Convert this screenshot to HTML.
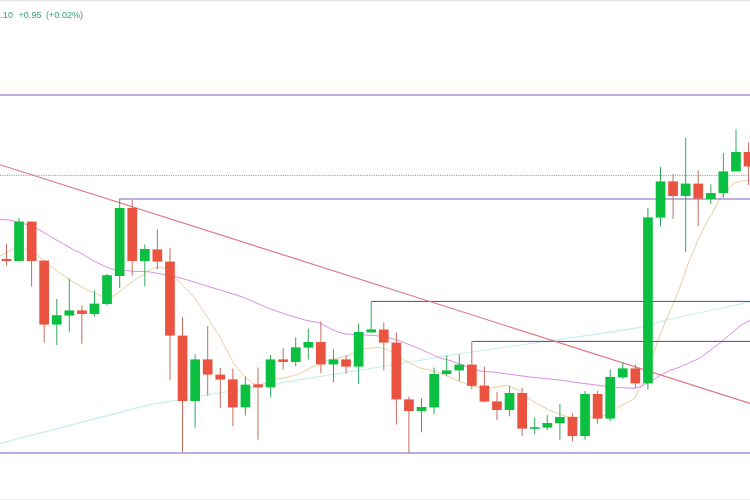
<!DOCTYPE html>
<html><head><meta charset="utf-8"><title>chart</title>
<style>html,body{margin:0;padding:0;background:#fff;}svg{display:block;}</style>
</head><body>
<svg width="750" height="500" viewBox="0 0 750 500">
<rect x="0" y="0" width="750" height="500" fill="#ffffff"/>
<rect x="0" y="0" width="750" height="1.2" fill="#e6e6e6"/>
<rect x="0" y="499" width="750" height="1" fill="#ececec"/>
<polyline fill="none" stroke="#c4efee" stroke-width="1.1" stroke-linejoin="round"  points="0.0,443.6 54.0,429.4 150.0,404.6 225.0,392.0 300.0,379.6 380.0,367.0 450.0,355.2 520.0,345.0 600.0,333.6 640.0,327.4 666.0,320.0 750.0,302.0"/>
<polyline fill="none" stroke="#ebcd9d" stroke-width="1.0" stroke-linejoin="round"  points="0.0,256.0 6.0,252.5 13.0,249.0 22.0,248.0 30.0,251.0 38.0,255.5 50.0,266.0 60.0,273.0 70.0,280.0 86.0,289.5 100.0,295.5 106.0,297.5 112.0,297.0 120.0,291.3 125.0,287.2 130.0,283.5 139.0,277.0 143.0,275.0 149.0,270.5 154.0,267.8 160.0,267.0 165.0,268.5 172.0,273.0 176.0,278.0 184.0,287.0 192.0,295.0 196.0,300.0 209.0,320.0 220.0,337.0 233.0,362.5 244.0,376.0 253.0,383.5 260.0,384.8 268.0,382.5 276.0,379.2 287.0,377.3 300.0,373.5 313.0,366.7 329.0,360.0 345.0,356.5 353.0,353.5 366.0,348.5 380.0,347.4 388.0,350.0 404.0,360.0 420.0,368.0 436.0,371.6 450.0,377.4 466.0,384.0 476.0,387.0 490.0,388.0 500.0,386.5 508.0,385.0 518.0,390.0 534.0,402.0 550.0,410.4 566.0,416.5 578.0,417.4 600.0,417.0 607.0,414.0 615.6,408.8 634.8,398.4 638.8,389.6 642.0,385.6 648.0,372.0 653.0,356.0 658.0,340.0 666.0,320.0 674.0,302.0 679.0,290.0 688.0,264.0 698.0,240.0 708.0,220.0 714.0,210.0 720.0,198.0 730.0,187.0 734.0,183.0 742.0,181.0 750.0,180.0"/>
<polyline fill="none" stroke="#da8ee7" stroke-width="1.0" stroke-linejoin="round"  points="0.0,219.2 12.0,220.4 25.0,224.0 38.0,229.0 53.0,238.0 60.0,242.0 74.0,250.0 80.0,252.6 93.0,260.5 100.0,264.0 107.0,267.3 112.0,269.0 120.0,270.3 135.0,271.3 148.0,271.6 162.0,274.2 178.0,277.2 194.0,282.0 210.0,287.0 226.0,291.8 242.0,296.8 249.0,299.7 268.0,308.0 287.0,314.7 305.0,320.0 319.0,322.7 329.0,328.0 338.0,332.0 345.0,334.0 366.0,335.0 384.0,336.3 400.0,341.0 420.0,349.0 440.0,358.0 450.0,360.5 465.0,366.0 480.0,371.0 496.0,372.4 530.0,377.0 560.0,380.0 580.0,383.0 600.0,385.5 620.0,387.6 635.0,388.3 642.0,386.0 653.0,380.0 660.0,375.5 670.0,370.4 680.0,367.0 700.0,358.0 720.0,343.0 740.0,326.0 750.0,320.0"/>
<line x1="0" y1="175.4" x2="750" y2="175.4" stroke="#6f9c86" stroke-width="1" stroke-dasharray="1 1.28"/>
<line x1="0" y1="95" x2="750" y2="95" stroke="#7d5cbe" stroke-width="1.2"/>
<line x1="119.4" y1="199" x2="750" y2="199" stroke="#8160c0" stroke-width="1.2"/>
<line x1="371.4" y1="301.4" x2="750" y2="301.4" stroke="#5c3fa8" stroke-width="1"/>
<line x1="472.2" y1="341.4" x2="750" y2="341.4" stroke="#5c3fa8" stroke-width="1"/>
<line x1="0" y1="453" x2="750" y2="453" stroke="#a88fd2" stroke-width="1.5"/>
<line x1="0" y1="164.7" x2="750" y2="403.4" stroke="#e1757f" stroke-width="1.15"/>
<line x1="6.5" y1="244.0" x2="6.5" y2="265.6" stroke="#c96a5e" stroke-width="1"/>
<rect x="1.6" y="259.0" width="9.7" height="2.0" fill="#e9533f"/>
<line x1="19.0" y1="218.0" x2="19.0" y2="261.0" stroke="#2fa862" stroke-width="1"/>
<rect x="14.2" y="221.6" width="9.7" height="39.4" fill="#0bbf41"/>
<line x1="31.6" y1="221.6" x2="31.6" y2="286.4" stroke="#c96a5e" stroke-width="1"/>
<rect x="26.8" y="221.6" width="9.7" height="39.4" fill="#e9533f"/>
<line x1="44.2" y1="260.6" x2="44.2" y2="342.6" stroke="#c96a5e" stroke-width="1"/>
<rect x="39.3" y="260.6" width="9.7" height="64.0" fill="#e9533f"/>
<line x1="56.8" y1="299.0" x2="56.8" y2="345.0" stroke="#2fa862" stroke-width="1"/>
<rect x="51.9" y="315.2" width="9.7" height="9.4" fill="#0bbf41"/>
<line x1="69.3" y1="278.6" x2="69.3" y2="331.6" stroke="#2fa862" stroke-width="1"/>
<rect x="64.5" y="310.4" width="9.7" height="5.2" fill="#0bbf41"/>
<line x1="81.9" y1="305.2" x2="81.9" y2="343.6" stroke="#c96a5e" stroke-width="1"/>
<rect x="77.1" y="310.4" width="9.7" height="3.6" fill="#e9533f"/>
<line x1="94.5" y1="290.4" x2="94.5" y2="316.4" stroke="#2fa862" stroke-width="1"/>
<rect x="89.6" y="303.6" width="9.7" height="10.4" fill="#0bbf41"/>
<line x1="107.1" y1="274.0" x2="107.1" y2="305.4" stroke="#2fa862" stroke-width="1"/>
<rect x="102.2" y="275.2" width="9.7" height="28.8" fill="#0bbf41"/>
<line x1="119.7" y1="198.8" x2="119.7" y2="288.0" stroke="#2fa862" stroke-width="1"/>
<rect x="114.8" y="208.0" width="9.7" height="68.0" fill="#0bbf41"/>
<line x1="132.2" y1="200.0" x2="132.2" y2="275.6" stroke="#c96a5e" stroke-width="1"/>
<rect x="127.4" y="208.0" width="9.7" height="53.0" fill="#e9533f"/>
<line x1="144.8" y1="244.4" x2="144.8" y2="286.4" stroke="#2fa862" stroke-width="1"/>
<rect x="140.0" y="249.0" width="9.7" height="12.0" fill="#0bbf41"/>
<line x1="157.4" y1="229.4" x2="157.4" y2="269.0" stroke="#c96a5e" stroke-width="1"/>
<rect x="152.5" y="249.4" width="9.7" height="12.2" fill="#e9533f"/>
<line x1="170.0" y1="248.0" x2="170.0" y2="380.0" stroke="#c96a5e" stroke-width="1"/>
<rect x="165.1" y="261.6" width="9.7" height="74.0" fill="#e9533f"/>
<line x1="182.5" y1="317.0" x2="182.5" y2="452.0" stroke="#c96a5e" stroke-width="1"/>
<rect x="177.7" y="335.6" width="9.7" height="65.4" fill="#e9533f"/>
<line x1="195.1" y1="354.4" x2="195.1" y2="427.6" stroke="#2fa862" stroke-width="1"/>
<rect x="190.3" y="359.4" width="9.7" height="41.6" fill="#0bbf41"/>
<line x1="207.7" y1="326.0" x2="207.7" y2="395.6" stroke="#c96a5e" stroke-width="1"/>
<rect x="202.8" y="359.4" width="9.7" height="15.2" fill="#e9533f"/>
<line x1="220.3" y1="368.0" x2="220.3" y2="408.0" stroke="#c96a5e" stroke-width="1"/>
<rect x="215.4" y="374.6" width="9.7" height="5.0" fill="#e9533f"/>
<line x1="232.9" y1="368.6" x2="232.9" y2="426.0" stroke="#c96a5e" stroke-width="1"/>
<rect x="228.0" y="379.4" width="9.7" height="28.0" fill="#e9533f"/>
<line x1="245.4" y1="376.6" x2="245.4" y2="415.4" stroke="#2fa862" stroke-width="1"/>
<rect x="240.6" y="384.6" width="9.7" height="22.8" fill="#0bbf41"/>
<line x1="258.0" y1="367.4" x2="258.0" y2="439.6" stroke="#c96a5e" stroke-width="1"/>
<rect x="253.2" y="384.4" width="9.7" height="3.0" fill="#e9533f"/>
<line x1="270.6" y1="355.0" x2="270.6" y2="397.0" stroke="#2fa862" stroke-width="1"/>
<rect x="265.7" y="359.4" width="9.7" height="28.0" fill="#0bbf41"/>
<line x1="283.2" y1="348.4" x2="283.2" y2="369.6" stroke="#c96a5e" stroke-width="1"/>
<rect x="278.3" y="359.4" width="9.7" height="2.6" fill="#e9533f"/>
<line x1="295.7" y1="337.4" x2="295.7" y2="366.4" stroke="#2fa862" stroke-width="1"/>
<rect x="290.9" y="347.4" width="9.7" height="14.6" fill="#0bbf41"/>
<line x1="308.3" y1="328.6" x2="308.3" y2="359.6" stroke="#2fa862" stroke-width="1"/>
<rect x="303.5" y="342.0" width="9.7" height="5.6" fill="#0bbf41"/>
<line x1="320.9" y1="321.4" x2="320.9" y2="373.4" stroke="#c96a5e" stroke-width="1"/>
<rect x="316.0" y="342.0" width="9.7" height="22.4" fill="#e9533f"/>
<line x1="333.5" y1="349.4" x2="333.5" y2="382.0" stroke="#2fa862" stroke-width="1"/>
<rect x="328.6" y="359.4" width="9.7" height="5.0" fill="#0bbf41"/>
<line x1="346.1" y1="355.6" x2="346.1" y2="373.6" stroke="#c96a5e" stroke-width="1"/>
<rect x="341.2" y="359.4" width="9.7" height="7.2" fill="#e9533f"/>
<line x1="358.6" y1="323.4" x2="358.6" y2="384.0" stroke="#2fa862" stroke-width="1"/>
<rect x="353.8" y="332.0" width="9.7" height="34.6" fill="#0bbf41"/>
<line x1="371.2" y1="301.4" x2="371.2" y2="332.4" stroke="#2fa862" stroke-width="1"/>
<rect x="366.4" y="329.4" width="9.7" height="3.0" fill="#0bbf41"/>
<line x1="383.8" y1="322.6" x2="383.8" y2="370.4" stroke="#c96a5e" stroke-width="1"/>
<rect x="378.9" y="329.6" width="9.7" height="13.0" fill="#e9533f"/>
<line x1="396.4" y1="332.4" x2="396.4" y2="424.6" stroke="#c96a5e" stroke-width="1"/>
<rect x="391.5" y="342.6" width="9.7" height="56.8" fill="#e9533f"/>
<line x1="408.9" y1="396.4" x2="408.9" y2="453.0" stroke="#c96a5e" stroke-width="1"/>
<rect x="404.1" y="399.4" width="9.7" height="11.6" fill="#e9533f"/>
<line x1="421.5" y1="398.0" x2="421.5" y2="432.4" stroke="#2fa862" stroke-width="1"/>
<rect x="416.7" y="407.0" width="9.7" height="4.0" fill="#0bbf41"/>
<line x1="434.1" y1="367.4" x2="434.1" y2="414.0" stroke="#2fa862" stroke-width="1"/>
<rect x="429.3" y="374.0" width="9.7" height="33.4" fill="#0bbf41"/>
<line x1="446.7" y1="355.4" x2="446.7" y2="376.0" stroke="#2fa862" stroke-width="1"/>
<rect x="441.8" y="370.4" width="9.7" height="3.6" fill="#0bbf41"/>
<line x1="459.3" y1="354.4" x2="459.3" y2="381.0" stroke="#2fa862" stroke-width="1"/>
<rect x="454.4" y="364.6" width="9.7" height="5.8" fill="#0bbf41"/>
<line x1="471.8" y1="341.4" x2="471.8" y2="389.2" stroke="#c96a5e" stroke-width="1"/>
<rect x="467.0" y="364.6" width="9.7" height="21.2" fill="#e9533f"/>
<line x1="484.4" y1="366.4" x2="484.4" y2="402.4" stroke="#c96a5e" stroke-width="1"/>
<rect x="479.6" y="385.6" width="9.7" height="16.0" fill="#e9533f"/>
<line x1="497.0" y1="392.0" x2="497.0" y2="420.0" stroke="#c96a5e" stroke-width="1"/>
<rect x="492.1" y="401.4" width="9.7" height="8.6" fill="#e9533f"/>
<line x1="509.6" y1="386.0" x2="509.6" y2="416.4" stroke="#2fa862" stroke-width="1"/>
<rect x="504.7" y="393.0" width="9.7" height="17.0" fill="#0bbf41"/>
<line x1="522.1" y1="387.6" x2="522.1" y2="436.0" stroke="#c96a5e" stroke-width="1"/>
<rect x="517.3" y="393.0" width="9.7" height="35.6" fill="#e9533f"/>
<line x1="534.7" y1="417.4" x2="534.7" y2="434.0" stroke="#2fa862" stroke-width="1"/>
<rect x="529.9" y="427.2" width="9.7" height="1.6" fill="#0bbf41"/>
<line x1="547.3" y1="415.0" x2="547.3" y2="430.0" stroke="#2fa862" stroke-width="1"/>
<rect x="542.5" y="423.0" width="9.7" height="4.6" fill="#0bbf41"/>
<line x1="559.9" y1="404.0" x2="559.9" y2="440.0" stroke="#2fa862" stroke-width="1"/>
<rect x="555.0" y="417.0" width="9.7" height="6.2" fill="#0bbf41"/>
<line x1="572.5" y1="413.4" x2="572.5" y2="441.4" stroke="#c96a5e" stroke-width="1"/>
<rect x="567.6" y="417.0" width="9.7" height="19.0" fill="#e9533f"/>
<line x1="585.0" y1="391.0" x2="585.0" y2="439.6" stroke="#2fa862" stroke-width="1"/>
<rect x="580.2" y="394.0" width="9.7" height="42.0" fill="#0bbf41"/>
<line x1="597.6" y1="391.0" x2="597.6" y2="423.6" stroke="#c96a5e" stroke-width="1"/>
<rect x="592.8" y="394.0" width="9.7" height="24.6" fill="#e9533f"/>
<line x1="610.2" y1="369.4" x2="610.2" y2="421.0" stroke="#2fa862" stroke-width="1"/>
<rect x="605.3" y="377.0" width="9.7" height="41.6" fill="#0bbf41"/>
<line x1="622.8" y1="362.0" x2="622.8" y2="379.0" stroke="#2fa862" stroke-width="1"/>
<rect x="617.9" y="368.4" width="9.7" height="9.0" fill="#0bbf41"/>
<line x1="635.4" y1="364.4" x2="635.4" y2="388.0" stroke="#c96a5e" stroke-width="1"/>
<rect x="630.5" y="368.4" width="9.7" height="15.0" fill="#e9533f"/>
<line x1="647.9" y1="208.0" x2="647.9" y2="389.4" stroke="#2fa862" stroke-width="1"/>
<rect x="643.1" y="217.4" width="9.7" height="166.0" fill="#0bbf41"/>
<line x1="660.5" y1="167.0" x2="660.5" y2="226.4" stroke="#2fa862" stroke-width="1"/>
<rect x="655.7" y="181.4" width="9.7" height="36.2" fill="#0bbf41"/>
<line x1="673.1" y1="174.0" x2="673.1" y2="219.0" stroke="#c96a5e" stroke-width="1"/>
<rect x="668.2" y="181.4" width="9.7" height="14.6" fill="#e9533f"/>
<line x1="685.7" y1="137.6" x2="685.7" y2="252.0" stroke="#2fa862" stroke-width="1"/>
<rect x="680.8" y="183.6" width="9.7" height="12.4" fill="#0bbf41"/>
<line x1="698.2" y1="170.4" x2="698.2" y2="226.4" stroke="#c96a5e" stroke-width="1"/>
<rect x="693.4" y="183.6" width="9.7" height="15.0" fill="#e9533f"/>
<line x1="710.8" y1="184.4" x2="710.8" y2="204.0" stroke="#2fa862" stroke-width="1"/>
<rect x="706.0" y="193.0" width="9.7" height="6.0" fill="#0bbf41"/>
<line x1="723.4" y1="153.0" x2="723.4" y2="197.6" stroke="#2fa862" stroke-width="1"/>
<rect x="718.5" y="171.4" width="9.7" height="21.6" fill="#0bbf41"/>
<line x1="736.0" y1="129.4" x2="736.0" y2="171.4" stroke="#2fa862" stroke-width="1"/>
<rect x="731.1" y="152.0" width="9.7" height="19.4" fill="#0bbf41"/>
<line x1="748.6" y1="142.4" x2="748.6" y2="185.0" stroke="#c96a5e" stroke-width="1"/>
<rect x="743.7" y="152.0" width="9.7" height="14.4" fill="#e9533f"/>
<text y="18" font-family="'Liberation Sans', sans-serif" font-size="9.1" fill="#35a56c"><tspan x="0.3">.10</tspan> <tspan x="18.5">+0.95</tspan> <tspan x="46">(+0.02%)</tspan></text>
</svg>
</body></html>
